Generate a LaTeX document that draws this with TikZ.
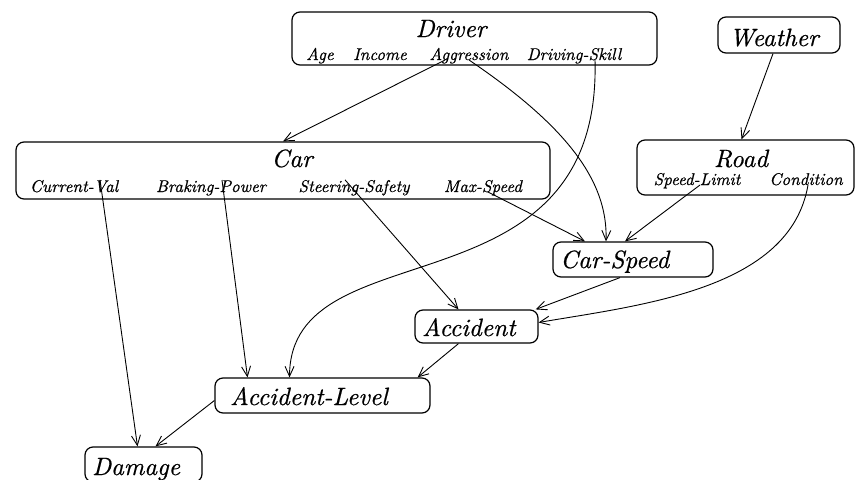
\documentclass[tikz,border=0pt]{standalone}
\usepackage{fontspec}
\newfontface\heavyit{lmroman10-italic}[Extension=.otf, FakeBold=0.6]
\usetikzlibrary{arrows.meta}
\begin{document}
\begin{tikzpicture}[x=1pt,y=-1pt,
  box/.style={draw, line width=1.2pt, rounded corners=8pt, inner sep=0pt},
  ttl/.style={font=\heavyit\fontsize{25}{28}\selectfont, inner sep=0pt},
  att/.style={font=\heavyit\fontsize{17}{20}\selectfont, inner sep=0pt, anchor=base},
  arr/.style={-{Straight Barb[length=10pt,width=9pt]}, line width=0.9pt}]
\useasboundingbox (0,0) rectangle (856,479);
% boxes
\node[box, minimum width=365pt, minimum height=53pt] (driver) at (474.5,38.5) {};
\node[box, minimum width=122pt, minimum height=36pt] (weather) at (779,35) {};
\node[box, minimum width=534pt, minimum height=57pt] (car) at (283,170.5) {};
\node[box, minimum width=217pt, minimum height=55pt] (road) at (745.5,167.5) {};
\node[box, minimum width=160pt, minimum height=35pt] (carspeed) at (633,259.5) {};
\node[box, minimum width=123pt, minimum height=33pt] (accident) at (476.5,326.5) {};
\node[box, minimum width=215pt, minimum height=35pt] (acclevel) at (322.5,395.5) {};
\node[box, minimum width=117pt, minimum height=35pt] (damage) at (143.5,464.5) {};
% titles
\node[ttl, anchor=base] (driverT) at (451,37) {Driver};
\node[ttl, anchor=base] (weatherT) at (774,46) {Weather};
\node[ttl, anchor=base] (carT) at (292,167) {Car};
\node[ttl, anchor=base] (roadT) at (741,167) {Road};
\node[ttl, anchor=base west] (carspeedT) at (560,268) {Car-Speed};
\node[ttl, anchor=base west] (accidentT) at (422,336) {Accident};
\node[ttl, anchor=base west] (acclevelT) at (230,405) {Accident-Level};
\node[ttl, anchor=base west] (damageT) at (92,475) {Damage};
% attributes
\node[att] (age) at (320,60) {Age};
\node[att] (income) at (380,60) {Income};
\node[att] (aggression) at (469,60) {Aggression};
\node[att] (drivingskill) at (574,60) {Driving-Skill};
\node[att] (currentval) at (74,192) {Current-Val};
\node[att] (braking) at (211,192) {Braking-Power};
\node[att] (steering) at (354,192) {Steering-Safety};
\node[att] (maxspeed) at (483,192) {Max-Speed};
\node[att] (speedlimit) at (697,185) {Speed-Limit};
\node[att] (condition) at (806,185) {Condition};
% connectors
\draw[arr] ([xshift=-24pt]aggression.base) -- (car.north);
\draw[arr] (aggression.base) .. controls (565,125) and (608,180) .. ([xshift=-27pt]carspeed.north);
\draw[arr] ([xshift=21pt]drivingskill.base) .. controls (602,320) and (290,225) .. ([xshift=-33pt]acclevel.north);
\draw[arr] ([xshift=-6pt]weather.south) -- ([xshift=-4pt]road.north);
\draw[arr] ([xshift=5pt]maxspeed.base) -- ([xshift=-48pt]carspeed.north);
\draw[arr] ([xshift=3pt]speedlimit.base) -- ([xshift=-8pt]carspeed.north);
\draw[arr] ([xshift=2pt]condition.base) .. controls (790,290) and (640,305) .. ([yshift=4pt]accident.east);
\draw[arr] ([xshift=-9pt]steering.north) -- ([xshift=-18pt]accident.north);
\draw[arr] ([xshift=-13pt]carspeed.south) -- ([xshift=-3pt]accident.north east);
\draw[arr] ([xshift=-18pt]accident.south) -- ([xshift=-13pt]acclevel.north east);
\draw[arr] ([xshift=26pt]currentval.north) -- ([xshift=-6pt]damage.north);
\draw[arr] ([xshift=11pt]braking.north) -- ([xshift=-75pt]acclevel.north);
\draw[arr] ([yshift=-5pt]acclevel.west) -- ([xshift=12pt]damage.north);
\end{tikzpicture}
\end{document}
